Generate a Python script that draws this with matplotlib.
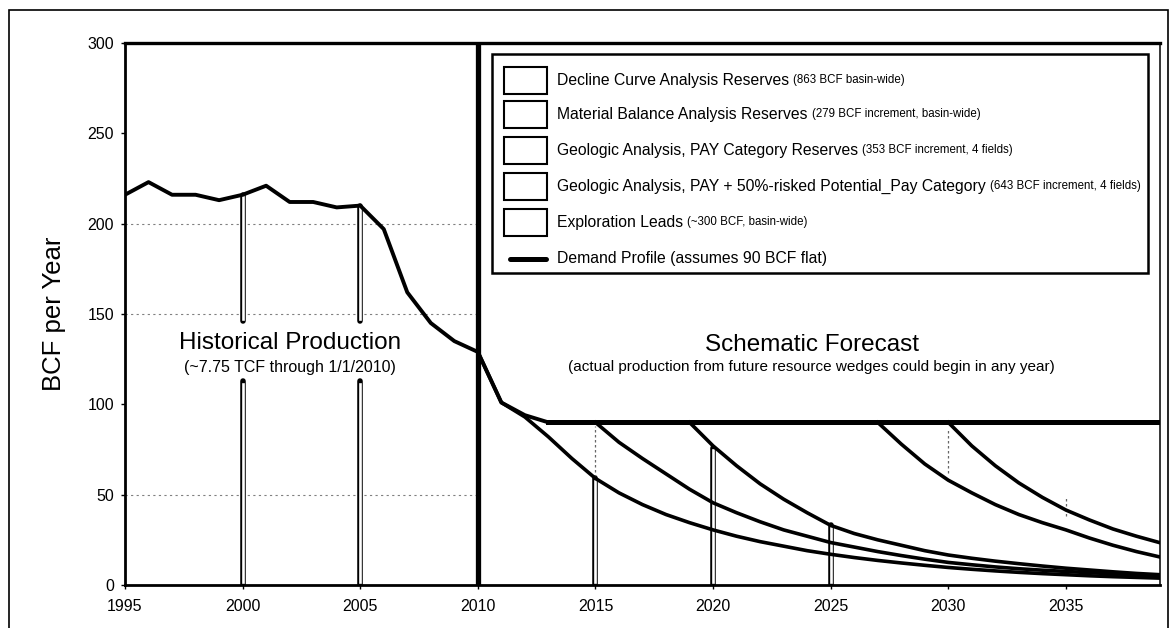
import numpy as np
import matplotlib.pyplot as plt
from matplotlib.patches import Rectangle

plt.rcParams['font.family'] = ['Liberation Sans', 'DejaVu Sans']

# historical production, BCF per year
hist_years = np.arange(1995, 2014)
hist_prod = [216, 223, 216, 216, 213, 216, 221, 212, 212, 209,
             210, 197, 162, 145, 135, 129, 101, 94, 90]

# schematic forecast, stacked tops of each wedge
decline_years = np.arange(2010, 2040)
decline = [129, 101, 93, 82, 70, 59, 51, 44.5, 39, 34.5,
           30.5, 27, 24, 21.5, 19, 17, 15.2, 13.6, 12.2, 10.9,
           9.7, 8.7, 7.8, 7.0, 6.3, 5.7, 5.1, 4.6, 4.2, 3.8]
matbal_years = np.arange(2015, 2040)
matbal = [90, 79, 70, 61.5, 53, 45.5, 40, 35, 30.5, 27,
          23.5, 21, 18.5, 16.3, 14.3, 12.5, 11.2, 10, 9, 8.2,
          7.5, 6.8, 6.2, 5.6, 5.1]
geo_pay_years = np.arange(2019, 2040)
geo_pay = [90, 77, 66, 56, 47.5, 40, 33, 28.5, 25, 22,
           19, 16.6, 14.8, 13.2, 11.8, 10.5, 9.3, 8.3, 7.3, 6.4, 5.7]
geo_pot_years = np.arange(2027, 2040)
geo_pot = [90, 78, 67, 58, 51, 44.5, 39, 34.5, 30.5, 26, 22, 18.5, 15.5]
explore_years = np.arange(2030, 2040)
explore = [90, 77, 66, 56.5, 48.5, 41.5, 36, 31, 27, 23.4]

demand_years = [2013, 2039]
demand = [90, 90]

# hollow drop lines (year, bottom, top)
drop_x = [2000, 2005, 2000, 2005, 2015, 2020, 2025]
drop_lo = [0, 0, 146, 146, 0, 0, 0]
drop_hi = [113, 113, 216, 210, 59, 76, 33]
# faint dotted remnants
dot_x = [2015, 2030, 2035]
dot_lo = [60, 62, 38]
dot_hi = [88, 87, 48]
grid_y = [50, 150, 200]

leg_main = ['Decline Curve Analysis Reserves',
            'Material Balance Analysis Reserves',
            'Geologic Analysis, PAY Category Reserves',
            'Geologic Analysis, PAY + 50%-risked Potential_Pay Category',
            'Exploration Leads',
            'Demand Profile (assumes 90 BCF flat)']
leg_note = ['(863 BCF basin-wide)',
            '(279 BCF increment, basin-wide)',
            '(353 BCF increment, 4 fields)',
            '(643 BCF increment, 4 fields)',
            '(~300 BCF, basin-wide)',
            '']

W, H = 1175, 628
fig = plt.figure(figsize=(W / 100, H / 100), dpi=100)
AX_L, AX_R, AX_T, AX_B = 125, 1160, 43, 585
ax = fig.add_axes([AX_L / W, 1 - AX_B / H, (AX_R - AX_L) / W, (AX_B - AX_T) / H])


def axf(px, py):
    # pixel position -> axes fraction
    return (px - AX_L) / (AX_R - AX_L), (AX_B - py) / (AX_B - AX_T)


for y in grid_y:
    ax.plot([1995, 2010], [y, y], color='0.5', lw=0.8, ls=(0, (2, 3)), zorder=1)

for x, lo, hi in zip(drop_x, drop_lo, drop_hi):
    ax.plot([x, x], [lo, hi], color='black', lw=4.0, solid_capstyle='round', zorder=2)
    ax.plot([x, x], [lo + 1.5, hi - 1.5], color='white', lw=1.9, zorder=2)

for x, lo, hi in zip(dot_x, dot_lo, dot_hi):
    ax.plot([x, x], [lo, hi], color='0.4', lw=0.9, ls=(0, (2, 2)), zorder=2)

ax.plot(hist_years, hist_prod, color='black', lw=2.8, zorder=4)
for xs, ys in [(decline_years, decline), (matbal_years, matbal),
               (geo_pay_years, geo_pay), (geo_pot_years, geo_pot),
               (explore_years, explore)]:
    ax.plot(xs, ys, color='black', lw=2.6, zorder=4)
ax.plot(demand_years, demand, color='black', lw=3.6, zorder=5)
ax.axvline(2010, color='black', lw=3.8, zorder=6)

ax.set_xlim(1995, 2039)
ax.set_ylim(0, 300)
ax.set_xticks(np.arange(1995, 2040, 5))
ax.set_yticks(np.arange(0, 301, 50))
ax.tick_params(direction='out', length=3, width=1, labelsize=11.5, pad=5)
ax.tick_params(axis='x', pad=7)
for side, lw in [('left', 2.0), ('bottom', 2.0), ('top', 2.4), ('right', 1.1)]:
    ax.spines[side].set_linewidth(lw)

fig.text(54 / W, 1 - 314 / H, 'BCF per Year', rotation=90, fontsize=18.5,
         ha='center', va='center')

ax.text(2002, 134, 'Historical Production', fontsize=17.5, ha='center', va='center')
ax.text(2002, 120.5, '(~7.75 TCF through 1/1/2010)', fontsize=11.5,
        ha='center', va='center')
ax.text(2024.2, 133, 'Schematic Forecast', fontsize=17.5, ha='center', va='center')
ax.text(2024.2, 120.5,
        '(actual production from future resource wedges could begin in any year)',
        fontsize=11, ha='center', va='center')

# legend drawn by hand (mixed font sizes in the labels)
x0, y0 = axf(492, 273)
x1, y1 = axf(1148, 54)
ax.add_patch(Rectangle((x0, y0), x1 - x0, y1 - y0, transform=ax.transAxes,
                       fill=False, edgecolor='black', lw=1.8, zorder=7))
row_py = [80, 114.5, 150, 186, 222.5, 259]
for i, (main, note) in enumerate(zip(leg_main, leg_note)):
    py = row_py[i]
    if note:
        px0, py0 = axf(504, py + 13.5)
        px1, py1 = axf(547, py - 13.5)
        ax.add_patch(Rectangle((px0, py0), px1 - px0, py1 - py0, transform=ax.transAxes,
                               facecolor='white', edgecolor='black', lw=1.5, zorder=7))
    else:
        lx0, ly = axf(510, py)
        lx1, _ = axf(546, py)
        ax.plot([lx0, lx1], [ly, ly], color='black', lw=3.6, transform=ax.transAxes,
                solid_capstyle='round', zorder=7)
    tx, ty = axf(557, py)
    t = ax.text(tx, ty, main, transform=ax.transAxes, fontsize=11.3, va='center', zorder=7)
    if note:
        ax.annotate(note, xy=(1, 0), xycoords=t, xytext=(3, 1.2),
                    textcoords='offset points', fontsize=8.3, va='bottom', zorder=7)

# outer frame of the scanned page
fig.add_artist(Rectangle((9 / W, -0.05), (1168 - 9) / W, 1.05 - 10 / H,
                         transform=fig.transFigure, fill=False, edgecolor='black',
                         lw=1.2, clip_on=False))

fig.savefig('out.png', dpi=100)
